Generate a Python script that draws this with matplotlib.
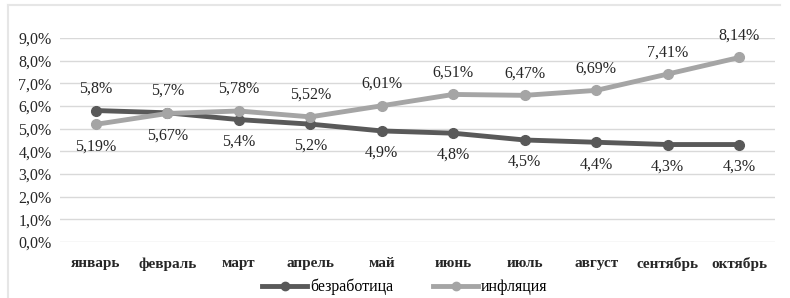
import numpy as np
import matplotlib.pyplot as plt
from matplotlib.lines import Line2D

months = ['январь', 'февраль', 'март', 'апрель', 'май',
          'июнь', 'июль', 'август', 'сентябрь', 'октябрь']
unemployment = [5.8, 5.7, 5.4, 5.2, 4.9, 4.8, 4.5, 4.4, 4.3, 4.3]
inflation = [5.19, 5.67, 5.78, 5.52, 6.01, 6.51, 6.47, 6.69, 7.41, 8.14]
unemp_labels = ['5,8%', '5,7%', '5,4%', '5,2%', '4,9%', '4,8%', '4,5%', '4,4%', '4,3%', '4,3%']
infl_labels = ['5,19%', '5,67%', '5,78%', '5,52%', '6,01%', '6,51%', '6,47%', '6,69%', '7,41%', '8,14%']
yticks = [0, 1, 2, 3, 4, 5, 6, 7, 8, 9]

plt.rcParams['font.family'] = ['Liberation Serif', 'DejaVu Serif']

dark = '#595959'
light = '#a5a5a5'

fig = plt.figure(figsize=(7.9, 2.98), dpi=100)
ax = fig.add_axes([60 / 790, 1 - 242 / 298, 715 / 790, 204 / 298])

x = np.arange(len(months))
ax.plot(x, unemployment, '-o', color=dark, lw=3.5, ms=7, zorder=3)
ax.plot(x, inflation, '-o', color=light, lw=3.5, ms=7, zorder=3)

# label placement: unemployment above for first two months, below otherwise
for i in x:
    up_u = i < 2
    ax.annotate(unemp_labels[i], (i, unemployment[i]),
                xytext=(0, 10 if up_u else -10), textcoords='offset points',
                ha='center', va='bottom' if up_u else 'top',
                fontsize=11.5, color='#262626')
    ax.annotate(infl_labels[i], (i, inflation[i]),
                xytext=(0, -10 if up_u else 10), textcoords='offset points',
                ha='center', va='top' if up_u else 'bottom',
                fontsize=11.5, color='#262626')

ax.set_xlim(-0.5, len(months) - 0.5)
ax.set_ylim(0, 9)
ax.set_yticks(yticks)
ax.set_yticklabels([f'{v},0%' for v in yticks], fontsize=11.5, color='#262626')
ax.set_xticks(x)
ax.set_xticklabels(months, fontsize=11, fontweight='bold', color='#262626')
ax.tick_params(length=0, pad=11, axis='x')
ax.tick_params(length=0, pad=6, axis='y')
ax.grid(axis='y', color='#d9d9d9', lw=1)
ax.set_axisbelow(True)
for s in ax.spines.values():
    s.set_visible(False)

handles = [Line2D([0], [0], color=dark, lw=3.5, marker='o', ms=6),
           Line2D([0], [0], color=light, lw=3.5, marker='o', ms=6)]
fig.legend(handles, ['безработица', 'инфляция'], loc='center',
           bbox_to_anchor=(405 / 790, 1 - 287 / 298), ncol=2, frameon=False,
           fontsize=11.5, handlelength=2.8, handletextpad=0.2, columnspacing=2.5)

# faint chart frame
fig.add_artist(Line2D([8 / 790, 780 / 790], [1 - 5 / 298, 1 - 5 / 298], color='#e6e6e6', lw=1.5))
fig.add_artist(Line2D([8 / 790, 8 / 790], [1 - 5 / 298, 0], color='#e6e6e6', lw=1.5))

fig.savefig('out.png', dpi=100)
